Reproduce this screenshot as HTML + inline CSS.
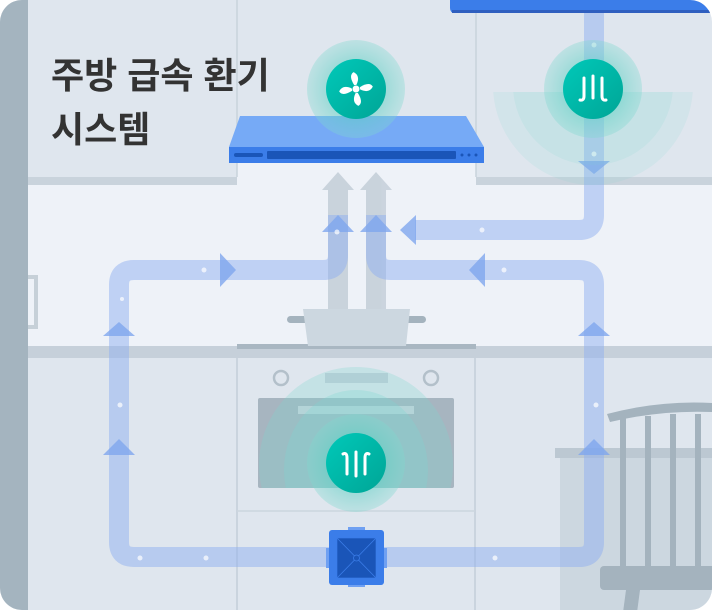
<!DOCTYPE html>
<html><head><meta charset="utf-8"><style>
html,body{margin:0;padding:0;background:#fff}
svg{display:block}
</style></head><body>
<svg width="712" height="610" viewBox="0 0 712 610" xmlns="http://www.w3.org/2000/svg">
<defs>
<clipPath id="c"><rect x="0" y="0" width="712" height="610" rx="22"/></clipPath>
<clipPath id="lower"><rect x="480" y="92" width="232" height="100"/></clipPath>
<clipPath id="upper"><rect x="250" y="360" width="212" height="128"/></clipPath>
<radialGradient id="halo" cx="50%" cy="50%" r="50%">
<stop offset="0.55" stop-color="#5fd0c4" stop-opacity="0.55"/>
<stop offset="1" stop-color="#7fd8cf" stop-opacity="0.35"/>
</radialGradient>
<linearGradient id="tc" x1="0" y1="0" x2="1" y2="1"><stop offset="0" stop-color="#00c9b9"/><stop offset="1" stop-color="#00a596"/></linearGradient>
</defs>
<g clip-path="url(#c)">
<rect width="712" height="610" fill="#dfe6ee"/>
<rect x="28" y="184" width="684" height="164" fill="#eef2f8"/>
<rect x="237" y="0" width="239" height="184" fill="#dfe6ee"/>
<rect x="237" y="163" width="239" height="21" fill="#eef2f8"/>
<rect x="28" y="177" width="209" height="8" fill="#c9d3dc"/>
<rect x="476" y="177" width="236" height="8" fill="#c9d3dc"/>
<line x1="237" y1="0" x2="237" y2="177" stroke="#c9d3dc" stroke-width="1.5"/>
<line x1="476" y1="0" x2="476" y2="177" stroke="#c9d3dc" stroke-width="1.5"/>
<rect x="0" y="0" width="28" height="610" fill="#a4b4bf"/>
<path d="M28 277 h8 v50 h-8" fill="none" stroke="#c6d0d8" stroke-width="4"/>
<rect x="28" y="346" width="684" height="12" fill="#c6d0da"/>
<rect x="237" y="344" width="239" height="5" fill="#a9b7c2"/>
<line x1="237" y1="358" x2="237" y2="610" stroke="#c4ced8" stroke-width="1.5"/>
<line x1="475" y1="358" x2="475" y2="610" stroke="#c4ced8" stroke-width="1.5"/>
<line x1="237" y1="511" x2="475" y2="511" stroke="#ccd5de" stroke-width="1.5"/>
<circle cx="281" cy="378" r="7" fill="none" stroke="#b3c0ca" stroke-width="2.5"/>
<circle cx="431" cy="378" r="7" fill="none" stroke="#b3c0ca" stroke-width="2.5"/>
<rect x="325" y="373" width="63" height="10" fill="#c4ced8"/>
<rect x="258" y="398" width="196" height="90" rx="2" fill="#a7b5c0"/>
<rect x="298" y="406" width="116" height="8" fill="#c9d3dc"/>
<!-- gray up arrows -->
<g fill="#c6d0da" opacity="0.9">
<path d="M328 320 V190 H322 L338 172 L354 190 H348 V320 Z"/>
<path d="M366 320 V190 H360 L376 172 L392 190 H386 V320 Z"/>
</g>
<!-- pot -->
<rect x="287" y="316" width="22" height="7" rx="3.5" fill="#a4b3be"/>
<rect x="404" y="316" width="22" height="7" rx="3.5" fill="#a4b3be"/>
<path d="M303 309 H410 L406 346 H308 Z" fill="#ccd7e0"/>
<!-- table & chair -->
<rect x="555" y="448" width="157" height="10" fill="#bcc8d2"/>
<rect x="560" y="458" width="152" height="152" fill="#ccd7e0"/>
<path d="M607 414 Q660 400 712 403 L712 412 Q660 410 610 422 Z" fill="#a4b3be"/>
<rect x="620" y="418" width="6" height="152" fill="#a4b3be"/>
<rect x="645" y="416" width="6" height="154" fill="#a4b3be"/>
<rect x="670" y="414" width="6" height="156" fill="#a4b3be"/>
<rect x="695" y="414" width="6" height="156" fill="#a4b3be"/>
<rect x="600" y="566" width="120" height="24" rx="4" fill="#a4b3be"/>
<path d="M626 590 h14 l-4 30 h-14 z" fill="#a4b3be"/>
<path d="M450 0 H712 V13 H455 Q450 13 450 8 Z" fill="#3b7de9"/>
<rect x="452" y="10" width="260" height="3" fill="#2f5fbf"/>
<!-- hood -->
<path d="M240 116 H466 L484 147 H229 Z" fill="#76aaf6"/>
<rect x="229" y="147" width="255" height="16" fill="#3b7de9"/>
<rect x="234" y="153" width="29" height="4" rx="2" fill="#1a55b8"/>
<rect x="267" y="151" width="189" height="8" rx="1" fill="#1a55b8"/>
<circle cx="462" cy="155" r="1.5" fill="#1a55b8"/><circle cx="469" cy="155" r="1.5" fill="#1a55b8"/><circle cx="476" cy="155" r="1.5" fill="#1a55b8"/>
<!-- ducts -->
<g fill="none" stroke="#8fb0ef" stroke-opacity="0.5" stroke-width="20" stroke-linejoin="round">
<path d="M356 557 H134 Q119 557 119 542 V285 Q119 270 134 270 H323 Q338 270 338 255 V215"/>
<path d="M356 557 H579 Q594 557 594 542 V285 Q594 270 579 270 H391 Q376 270 376 255 V215"/>
<path d="M594 13 V215 Q594 230 579 230 H415"/>
</g>
<g fill="#7fa6ee" fill-opacity="0.8">
<path d="M322 232 L338 215 L354 232 Z"/>
<path d="M360 232 L376 215 L392 232 Z"/>
<path d="M416 215 L400 230 L416 245 Z"/>
<path d="M220 253 L236 270 L220 287 Z"/>
<path d="M485 253 L469 270 L485 287 Z"/>
<path d="M103 336 L119 322 L135 336 Z"/>
<path d="M103 455 L119 439 L135 455 Z"/>
<path d="M578 336 L594 322 L610 336 Z"/>
<path d="M578 455 L594 439 L610 455 Z"/>
<path d="M578 161 L594 174 L610 161 Z"/>
</g>
<g fill="#fff" opacity="0.7">
<circle cx="120" cy="405" r="2.5"/><circle cx="122" cy="299" r="2"/><circle cx="140" cy="558" r="2.5"/><circle cx="206" cy="558" r="2.5"/><circle cx="495" cy="558" r="2.5"/><circle cx="596" cy="405" r="2.5"/><circle cx="204" cy="270" r="2.5"/><circle cx="482" cy="230" r="2.5"/><circle cx="594" cy="45" r="2.5"/><circle cx="594" cy="154" r="2.5"/><circle cx="504" cy="270" r="2.5"/><circle cx="337" cy="232" r="2.5"/>
</g>
<!-- box -->
<rect x="348" y="527" width="17" height="4" fill="#6fa0f2"/>
<rect x="348" y="583" width="17" height="4" fill="#6fa0f2"/>
<rect x="326" y="548" width="4" height="20" fill="#6fa0f2"/>
<rect x="383" y="548" width="4" height="20" fill="#6fa0f2"/>
<rect x="329" y="530" width="55" height="55" rx="3" fill="#3b7de9"/>
<rect x="337" y="538" width="39" height="40" fill="#1a55b8" stroke="#3b7de9" stroke-width="0.6"/>
<path d="M337 538 L376 578 M376 538 L337 578" stroke="#3b7de9" stroke-width="0.8"/>
<circle cx="356.5" cy="558" r="3" fill="#1a55b8" stroke="#3b7de9" stroke-width="0.8"/>
<!-- halos -->
<g clip-path="url(#lower)">
<circle cx="593" cy="85" r="100" fill="#7fd8cf" opacity="0.13"/>
<circle cx="593" cy="85" r="80" fill="#7fd8cf" opacity="0.13"/>
</g>
<g clip-path="url(#upper)">
<ellipse cx="356" cy="465" rx="97" ry="98" fill="#7fd8cf" opacity="0.28"/>
<ellipse cx="356" cy="470" rx="72" ry="80" fill="#7fd8cf" opacity="0.3"/>
</g>
<circle cx="356" cy="89" r="49" fill="url(#halo)"/>
<circle cx="593" cy="89" r="49" fill="url(#halo)"/>
<ellipse cx="356" cy="463" rx="49" ry="49" fill="url(#halo)"/>
<circle cx="356" cy="89" r="30" fill="url(#tc)"/>
<circle cx="593" cy="89" r="30" fill="url(#tc)"/>
<circle cx="356" cy="463" r="30" fill="url(#tc)"/>
<g fill="#fff" transform="translate(356 89)">
<circle r="3.5"/>
<path d="M-3 -3 Q-12 -10 -8 -15 Q0 -14 -1 -4 Z" transform="rotate(20)"/>
<path d="M-3 -3 Q-12 -10 -8 -15 Q0 -14 -1 -4 Z" transform="rotate(110)"/>
<path d="M-3 -3 Q-12 -10 -8 -15 Q0 -14 -1 -4 Z" transform="rotate(200)"/>
<path d="M-3 -3 Q-12 -10 -8 -15 Q0 -14 -1 -4 Z" transform="rotate(290)"/>
</g>
<g fill="none" stroke="#fff" stroke-width="3" stroke-linecap="round">
<path d="M584 78 V96 Q584 101 580 100"/>
<path d="M593 76 V98"/>
<path d="M602 78 V96 Q602 101 606 100"/>
</g>
<g fill="none" stroke="#fff" stroke-width="3" stroke-linecap="round">
<path d="M347 474 V458 Q347 452 343 454"/>
<path d="M356 476 V452"/>
<path d="M365 474 V458 Q365 452 369 454"/>
</g>
<text x="51" y="88" font-family="Liberation Sans, 'Noto Sans CJK KR', sans-serif" font-size="36" font-weight="bold" fill="#333">주방 급속 환기</text>
<text x="51" y="142" font-family="Liberation Sans, 'Noto Sans CJK KR', sans-serif" font-size="36" font-weight="bold" fill="#333">시스템</text>
</g>
</svg>
</body></html>
